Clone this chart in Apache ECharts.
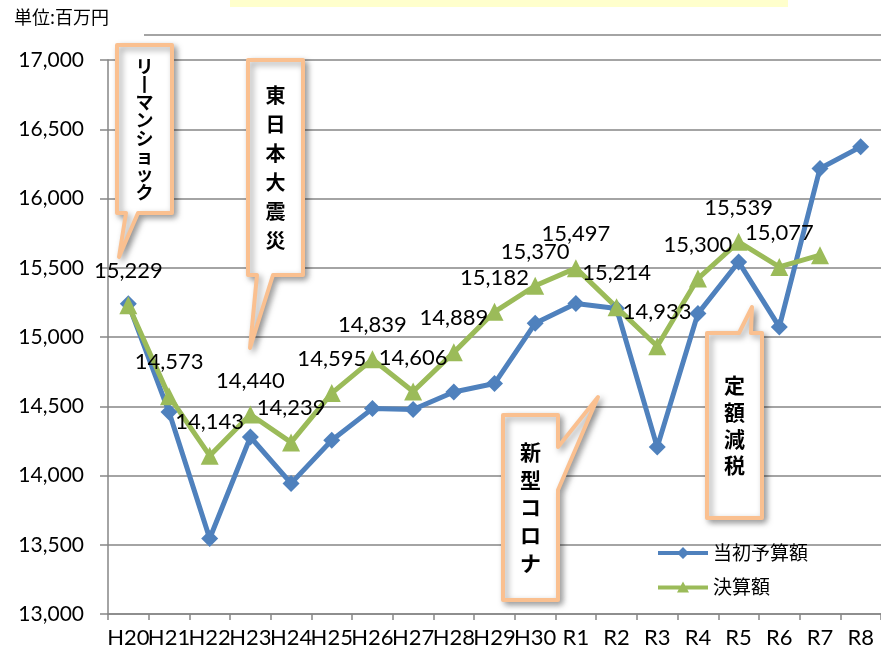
<!DOCTYPE html>
<html>
<head>
<meta charset="utf-8">
<script src="https://cdn.jsdelivr.net/npm/echarts@6/dist/echarts.min.js"></script>
<style>
  html, body { margin: 0; padding: 0; background: #fff; }
  #chart { width: 881px; height: 660px; }
</style>
</head>
<body>
<div id="chart"></div>
<script>
// 年度
const years = ['H20', 'H21', 'H22', 'H23', 'H24', 'H25', 'H26', 'H27', 'H28', 'H29', 'H30',
  'R1', 'R2', 'R3', 'R4', 'R5', 'R6', 'R7', 'R8']

// 当初予算額（百万円）
const initialBudget = [15240, 14458, 13545, 14278, 13943, 14254, 14483, 14476, 14603, 14664, 15099,
  15242, 15206, 14205, 15169, 15542, 15073, 16217, 16373]

// 決算額（百万円）
const settledAmount = [15229, 14573, 14143, 14440, 14239, 14595, 14839, 14606, 14889, 15182, 15370,
  15497, 15214, 14933, 15422, 15687, 15506, 15591, null]

// 決算額に付いているデータラベル
const settledLabels = ['15,229', '14,573', '14,143', '14,440', '14,239', '14,595', '14,839', '14,606', '14,889',
  '15,182', '15,370', '15,497', '15,214', '14,933', '15,300', '15,539', '15,077', '', '']

// 吹き出しの文字
const calloutTexts = ['リ丨マンショック', '東日本大震災', '新型コロナ', '定額減税']

const yTicks = { min: 13000, max: 17000, step: 500 }

const numFont = 'Lato, "Liberation Sans", sans-serif'
const jpFont = '"Noto Sans CJK JP", sans-serif'
const gridColor = '#868686'
const calloutStroke = '#FAC090'
const blue = '#4F81BD'
const green = '#9BBB59'

// 凡例アイコン（太線＋マーカー）
const legendDiamond = 'path://M0,5H50V9H0Z M25,1L31,7L25,13L19,7Z'
const legendTriangle = 'path://M0,5H50V9H0Z M25,1L31,12L19,12Z'

const chart = echarts.init(document.getElementById('chart'))

// 吹き出し（枠と縦書き文字）
const callout = (points, text, cx, top, lineHeight, fontSize) => [
  {
    type: 'polygon',
    shape: { points },
    z: 100,
    style: {
      fill: '#fff',
      stroke: calloutStroke,
      lineWidth: 4,
      lineJoin: 'round',
      shadowBlur: 6,
      shadowOffsetX: 3,
      shadowOffsetY: 3,
      shadowColor: 'rgba(0,0,0,0.35)'
    }
  },
  {
    type: 'text',
    z: 101,
    style: {
      text: text.split('').join('\n'),
      x: cx,
      y: top,
      align: 'center',
      verticalAlign: 'top',
      fontSize,
      fontWeight: 'bold',
      fontFamily: jpFont,
      lineHeight,
      fill: '#000'
    }
  }
]

const option = {
  animation: false,
  grid: { left: 108, right: 0, top: 60, bottom: 46 },
  legend: {
    data: [
      { name: '当初予算額', icon: legendDiamond, itemStyle: { color: blue } },
      { name: '決算額', icon: legendTriangle, itemStyle: { color: green } }
    ],
    orient: 'vertical',
    left: 653,
    top: 538,
    itemWidth: 50,
    itemHeight: 14,
    itemGap: 14,
    textStyle: { fontSize: 19, lineHeight: 20, fontFamily: jpFont, color: '#000' }
  },
  xAxis: {
    type: 'category',
    data: years,
    boundaryGap: true,
    axisLine: { lineStyle: { color: gridColor, width: 1.5 } },
    axisTick: { show: true, length: 6, interval: 0, lineStyle: { color: gridColor, width: 1.5 } },
    axisLabel: { interval: 0, fontSize: 22, fontFamily: numFont, color: '#000', margin: 13 }
  },
  yAxis: {
    type: 'value',
    min: yTicks.min,
    max: yTicks.max,
    interval: yTicks.step,
    axisLine: { show: true, lineStyle: { color: gridColor, width: 1.5 } },
    axisTick: { show: true, length: 8, lineStyle: { color: gridColor, width: 1.5 } },
    splitLine: { lineStyle: { color: gridColor, width: 1.5 } },
    axisLabel: {
      fontSize: 21,
      fontFamily: numFont,
      color: '#000',
      margin: 24,
      formatter: v => v.toLocaleString('en-US')
    }
  },
  series: [
    {
      name: '当初予算額',
      type: 'line',
      data: initialBudget,
      symbol: 'diamond',
      symbolSize: 17,
      lineStyle: { color: blue, width: 5 },
      itemStyle: { color: blue }
    },
    {
      name: '決算額',
      type: 'line',
      data: settledAmount,
      symbol: 'triangle',
      symbolSize: 18,
      lineStyle: { color: green, width: 5 },
      itemStyle: { color: green },
      label: {
        show: true,
        position: 'top',
        distance: 14,
        fontSize: 22,
        fontFamily: numFont,
        color: '#000',
        formatter: p => settledLabels[p.dataIndex]
      }
    }
  ],
  graphic: [
    // 上部の黄色い帯と横線
    { type: 'rect', shape: { x: 230, y: 0, width: 558, height: 7 }, style: { fill: '#FFFFCC' } },
    { type: 'line', shape: { x1: 144, y1: 35, x2: 881, y2: 35 }, style: { stroke: gridColor, lineWidth: 1.5 } },
    {
      type: 'text',
      style: { text: '単位:百万円', x: 14, y: 8, fontSize: 18, fontFamily: jpFont, fill: '#000' }
    },
    ...callout([[117, 45], [172, 45], [172, 213], [138, 213], [119, 257], [126, 213], [117, 213]],
      calloutTexts[0], 144.5, 57, 18, 18),
    ...callout([[248, 60], [303, 60], [303, 275], [273, 275], [250, 348], [257, 275], [248, 275]],
      calloutTexts[1], 275.5, 81, 29, 20),
    ...callout([[503, 415], [558, 415], [558, 447], [598, 397], [558, 490], [558, 600], [503, 600]],
      calloutTexts[2], 530.5, 438, 27.75, 21),
    ...callout([[707, 333], [739, 333], [752, 307], [751, 333], [762, 333], [762, 518], [707, 518]],
      calloutTexts[3], 734.5, 372, 26.7, 21)
  ]
}

chart.setOption(option)
</script>
</body>
</html>
